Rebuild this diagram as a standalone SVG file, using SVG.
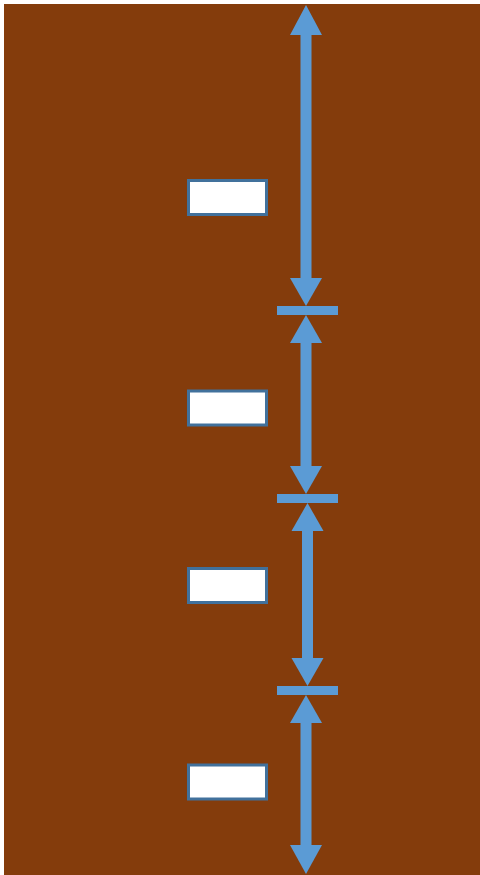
<svg xmlns="http://www.w3.org/2000/svg" width="480" height="875" viewBox="0 0 480 875">
  <style>
    .ground { fill: #843C0C; }
    .box { fill: #FFFFFF; stroke: #41719C; stroke-width: 3; }
    .dim { fill: #5B9BD5; }
  </style>
  <rect x="0" y="0" width="480" height="875" fill="#FFFFFF"/>
  <rect class="ground" x="4" y="4" width="476" height="871"/>

  <!-- dimension arrows and divider ticks -->
  <g id="connectors">
    <!-- segment 1: top edge to first divider -->
    <rect class="dim" x="300.5" y="34" width="11" height="246"/>
    <polygon class="dim" points="306,5 322,35 290,35"/>
    <polygon class="dim" points="306,306 322,278 290,278"/>
    <rect class="dim" x="277" y="306" width="61" height="9"/>
    <!-- segment 2 -->
    <polygon class="dim" points="306,315 322,343 290,343"/>
    <rect class="dim" x="300.5" y="342" width="11" height="126"/>
    <polygon class="dim" points="306,494 322,466 290,466"/>
    <rect class="dim" x="277" y="494" width="61" height="9"/>
    <!-- segment 3 -->
    <polygon class="dim" points="307.5,503 323.5,531 291.5,531"/>
    <rect class="dim" x="302" y="530" width="11" height="130"/>
    <polygon class="dim" points="307.5,686 323.5,658 291.5,658"/>
    <rect class="dim" x="277" y="686" width="61" height="9"/>
    <!-- segment 4: last divider to bottom edge -->
    <polygon class="dim" points="306,695 322,723 290,723"/>
    <rect class="dim" x="300.5" y="722" width="11" height="125"/>
    <polygon class="dim" points="306,874 322,845 290,845"/>
  </g>

  <g id="box1"><rect class="box" x="188.5" y="180.5" width="78" height="34"/></g>
  <g id="box2"><rect class="box" x="188.5" y="391" width="78" height="34"/></g>
  <g id="box3"><rect class="box" x="188.5" y="568.5" width="78" height="34"/></g>
  <g id="box4"><rect class="box" x="188.5" y="765" width="78" height="34"/></g>
</svg>
